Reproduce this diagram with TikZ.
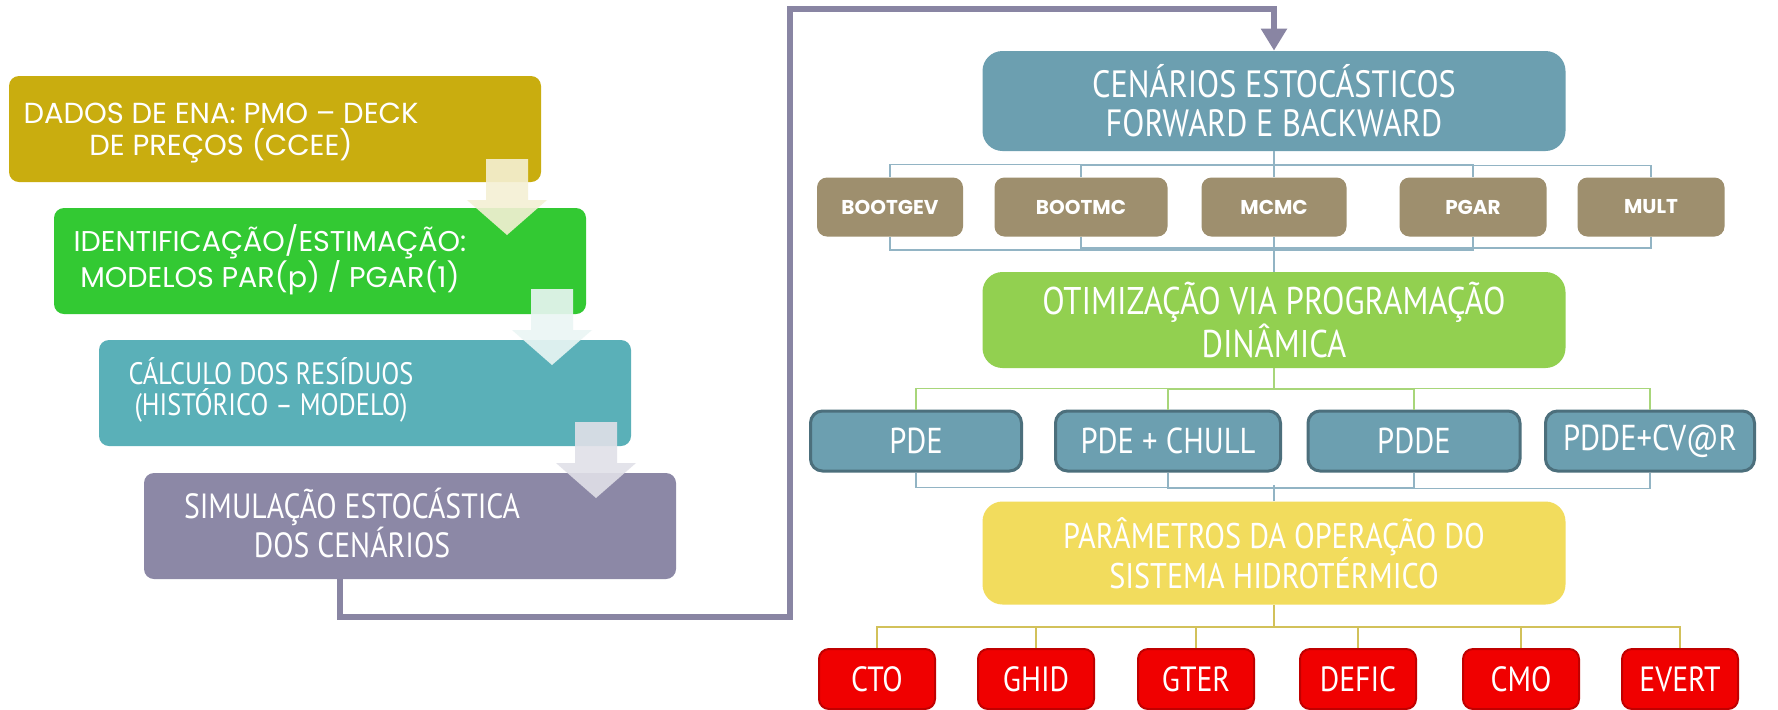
\documentclass[tikz,border=0pt]{standalone}
\usepackage{fontspec}
\usetikzlibrary{arrows.meta}
\newfontfamily\geo{Poppins}
\newfontfamily\narrow[FakeStretch=0.85]{PT Sans}
\definecolor{dados}{HTML}{C9AD0F}
\definecolor{ident}{HTML}{33C933}
\definecolor{calc}{HTML}{5AB0B8}
\definecolor{simul}{HTML}{8C88A6}
\definecolor{cenblue}{HTML}{6C9FB0}
\definecolor{tan}{HTML}{9E8F6E}
\definecolor{otim}{HTML}{92D050}
\definecolor{pdeedge}{HTML}{4C6F7C}
\definecolor{param}{HTML}{F2DC5D}
\definecolor{outred}{HTML}{F00000}
\definecolor{outedge}{HTML}{C00000}
\definecolor{flowgray}{HTML}{8985A3}
\definecolor{bluelink}{HTML}{92B4C4}
\definecolor{greenlink}{HTML}{A8D67A}
\definecolor{yellowlink}{HTML}{D2C15A}
\tikzset{
  stage/.style={rounded corners=5pt, minimum width=266pt, minimum height=53pt, inner sep=0pt},
  stagetext/.style={text=white, align=center, inner sep=0pt},
  bigbox/.style={rounded corners=10pt, minimum width=291.5pt, text=white, align=center},
  method/.style={fill=tan, rounded corners=5pt, minimum height=29.5pt, text=white,
    font=\geo\bfseries\fontsize{10}{12}\selectfont},
  solver/.style={fill=cenblue, draw=pdeedge, line width=1.5pt, rounded corners=6pt,
    minimum height=30pt, text=white, font=\narrow\fontsize{18}{18}\selectfont},
  output/.style={fill=outred, draw=outedge, line width=1pt, rounded corners=5pt,
    minimum width=58pt, minimum height=30pt, text=white, font=\narrow\fontsize{17.5}{18}\selectfont},
  lnk/.style={line width=0.6pt},
  flow/.style={draw=flowgray, line width=3pt, -{Triangle[width=12.5pt,length=11pt]}},
}
% faded block arrow between two stages: x, top, colour
\newcommand{\blockarrow}[3]{%
  \fill[#3, opacity=0.9] (#1-21,#2) -- (#1+21,#2) -- (#1+21,#2+41) -- (#1+40,#2+41)
    -- (#1,#2+76) -- (#1-40,#2+41) -- (#1-21,#2+41) -- cycle;}
\begin{document}
\begin{tikzpicture}[x=0.5pt, y=-0.5pt]
  \path[use as bounding box, fill=white] (0,0) rectangle (1778,709);

  % left column: preparation of the inflows
  \node[stage, fill=dados] (dados) at (275,129) {};
  \node[stage, fill=ident] (ident) at (320,261) {};
  \node[stage, fill=calc] (calc) at (365,393) {};
  \node[stage, fill=simul] (simul) at (410,526) {};
  \node[stagetext, font=\geo\fontsize{14.5}{16}\selectfont] (dadostxt) at (221,133)
    {DADOS DE ENA: PMO – DECK\\DE PREÇOS (CCEE)};
  \node[stagetext, font=\geo\fontsize{14.3}{16}\selectfont] (identtxt) at (270,260)
    {IDENTIFICAÇÃO/ESTIMAÇÃO:\\MODELOS PAR(p) / PGAR(1)};
  \node[stagetext, font=\narrow\fontsize{15.5}{15.5}\selectfont] (calctxt) at (271,390)
    {CÁLCULO DOS RESÍDUOS\\(HISTÓRICO – MODELO)};
  \node[stagetext, font=\narrow\fontsize{17.5}{17}\selectfont] (simultxt) at (352,523)
    {SIMULAÇÃO ESTOCÁSTICA\\DOS CENÁRIOS};
  \blockarrow{507}{159}{dados!18!white}
  \blockarrow{552}{289}{ident!14!calc!12!white}
  \blockarrow{596}{422}{simul!26!white}

  % right column
  \node[bigbox, fill=cenblue, minimum height=50pt, font=\narrow\fontsize{19}{19.5}\selectfont]
    (cen) at (1274,101) {CENÁRIOS ESTOCÁSTICOS\\FORWARD E BACKWARD};
  \node[method, minimum width=73pt] (bootgev) at (890,207) {BOOTGEV};
  \node[method, minimum width=86.5pt] (bootmc) at (1081,207) {BOOTMC};
  \node[method, minimum width=72.5pt] (mcmc) at (1274,207) {MCMC};
  \node[method, minimum width=73.5pt] (pgar) at (1473,207) {PGAR};
  \node[method, minimum width=73.5pt] (mult) at (1651,207) {MULT};

  \node[bigbox, fill=otim, minimum height=48pt, font=\narrow\fontsize{19.3}{20}\selectfont]
    (otim) at (1274,320) {OTIMIZAÇÃO VIA PROGRAMAÇÃO\\DINÂMICA};
  \node[solver, minimum width=105.5pt] (pde) at (916,441) {PDE};
  \node[solver, minimum width=112.5pt] (chull) at (1168,441) {PDE + CHULL};
  \node[solver, minimum width=106pt] (pdde) at (1414,441) {PDDE};
  \node[solver, minimum width=104.5pt] (cvar) at (1650,441) {PDDE+CV@R};

  \node[bigbox, fill=param, minimum height=51.5pt, font=\narrow\fontsize{17.8}{19}\selectfont]
    (param) at (1274,553) {PARÂMETROS DA OPERAÇÃO DO\\SISTEMA HIDROTÉRMICO};
  \node[output] (cto) at (877,679) {CTO};
  \node[output] (ghid) at (1036,679) {GHID};
  \node[output] (gter) at (1196,679) {GTER};
  \node[output] (defic) at (1358,679) {DEFIC};
  \node[output] (cmo) at (1521,679) {CMO};
  \node[output] (evert) at (1680,679) {EVERT};

  % brackets of the tree
  \begin{scope}[lnk, draw=bluelink]
    \draw (cen) -- (mcmc) -- (otim);
    \draw (bootgev.north) -- ++(0,-13) -| (pgar.north);
    \draw (bootmc.north) -- ++(0,-12) -| (mult.north);
    \draw (bootgev.south) -- ++(0,13) -| (pgar.south);
    \draw (bootmc.south) -- ++(0,11) -| (mult.south);
    \draw (pde.south) -- ++(0,15) -| (pdde.south);
    \draw (chull.south) -- ++(0,16) -| (cvar.south);
    \draw (param.north) -- ++(0,-16);
  \end{scope}
  \begin{scope}[lnk, draw=greenlink]
    \draw (otim.south) -- ++(0,21);
    \draw (pde.north) -- ++(0,-21) -| (cvar.north);
    \draw (chull.north) -- ++(0,-20) -| (pdde.north);
  \end{scope}
  \begin{scope}[lnk, draw=yellowlink]
    \draw (param.south) -- ++(0,23);
    \draw (cto.north) -- ++(0,-21) -| (evert.north);
    \foreach \n in {ghid,gter,defic,cmo}
      \draw (\n.north) -- ++(0,-21);
  \end{scope}

  % flow from the simulation to the scenarios
  \coordinate (low) at (790,617);
  \coordinate (high) at (1274,9);
  \draw[flow] ([xshift=-35pt]simul.south) |- (low) |- (high) -- (cen.north);
\end{tikzpicture}
\end{document}
